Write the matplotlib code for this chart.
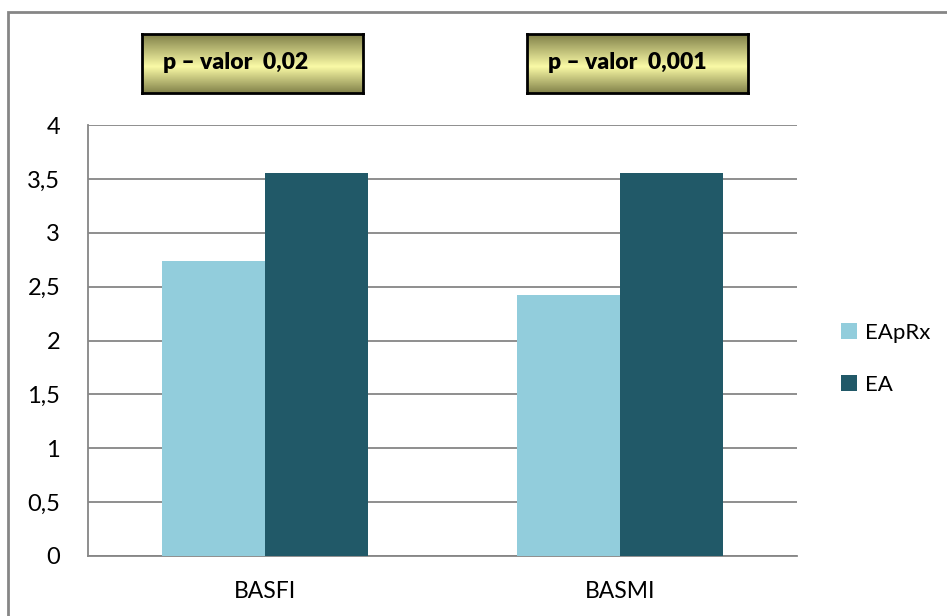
import numpy as np
import matplotlib
matplotlib.use("Agg")
import matplotlib.pyplot as plt
from matplotlib.patches import Rectangle
from matplotlib.colors import LinearSegmentedColormap

categories = ["BASFI", "BASMI"]
series_names = ["EApRx", "EA"]
eaprx = [2.74, 2.42]
ea = [3.55, 3.55]
yticks = [0, 0.5, 1, 1.5, 2, 2.5, 3, 3.5, 4]
ytick_labels = ["0", "0,5", "1", "1,5", "2", "2,5", "3", "3,5", "4"]
pvalue_labels = ["p – valor  0,02", "p – valor  0,001"]

colors = ["#92CDDC", "#215968"]
grid_color = "#868686"

plt.rcParams["font.family"] = ["Lato", "DejaVu Sans"]

W, H = 947, 616
fig = plt.figure(figsize=(W / 100, H / 100), dpi=100)

# outer chart frame
fig.patches.append(Rectangle((8 / W, 0 - 0.01), 1.0, 1 - 12 / H + 0.01,
                             transform=fig.transFigure, fill=False,
                             edgecolor=grid_color, linewidth=2.0))

ax = fig.add_axes([88 / W, 1 - 556 / H, (797 - 88) / W, (556 - 125) / H])
x = np.arange(len(categories))
bw = 0.29
ax.bar(x - bw / 2, eaprx, width=bw, color=colors[0], label=series_names[0], zorder=3)
ax.bar(x + bw / 2, ea, width=bw, color=colors[1], label=series_names[1], zorder=3)

ax.set_xlim(-0.5, len(categories) - 0.5)
ax.set_ylim(0, 4)
ax.set_yticks(yticks)
ax.set_yticklabels(ytick_labels, fontsize=17)
ax.set_xticks(x)
ax.set_xticklabels(categories, fontsize=16.5)
ax.tick_params(axis="both", length=0, colors="black")
ax.tick_params(axis="y", pad=20)
ax.tick_params(axis="x", pad=18)
ax.yaxis.grid(True, color=grid_color, linewidth=1.3, zorder=0)
for s in ["top", "right"]:
    ax.spines[s].set_visible(False)
for s in ["left", "bottom"]:
    ax.spines[s].set_color(grid_color)
    ax.spines[s].set_linewidth(1.3)

leg = fig.legend(loc="center left", bbox_to_anchor=(841 / W, 1 - 359 / H),
                 frameon=False, fontsize=16, borderpad=0, borderaxespad=0,
                 handlelength=0.72, handleheight=0.72,
                 handletextpad=0.35, labelspacing=1.45)

# p-value annotation boxes with vertical gradient fill
cmap = LinearSegmentedColormap.from_list(
    "olive", [(0.0, "#7f7f48"), (0.55, "#fafaa6"), (1.0, "#82824a")])
grad = np.linspace(0, 1, 256).reshape(-1, 1)
boxes = [(142, 34, 363, 93), (527, 34, 748, 93)]
for (x0, y0, x1, y1), txt in zip(boxes, pvalue_labels):
    bax = fig.add_axes([x0 / W, 1 - y1 / H, (x1 - x0) / W, (y1 - y0) / H])
    bax.imshow(grad, aspect="auto", cmap=cmap, extent=(0, 1, 0, 1), origin="upper")
    bax.set_xticks([])
    bax.set_yticks([])
    for s in bax.spines.values():
        s.set_color("black")
        s.set_linewidth(2)
    bax.text(0.095, 0.52, txt, transform=bax.transAxes, fontsize=16.5,
             fontweight="heavy", va="center", ha="left", color="black")

fig.savefig("out.png", dpi=100)
